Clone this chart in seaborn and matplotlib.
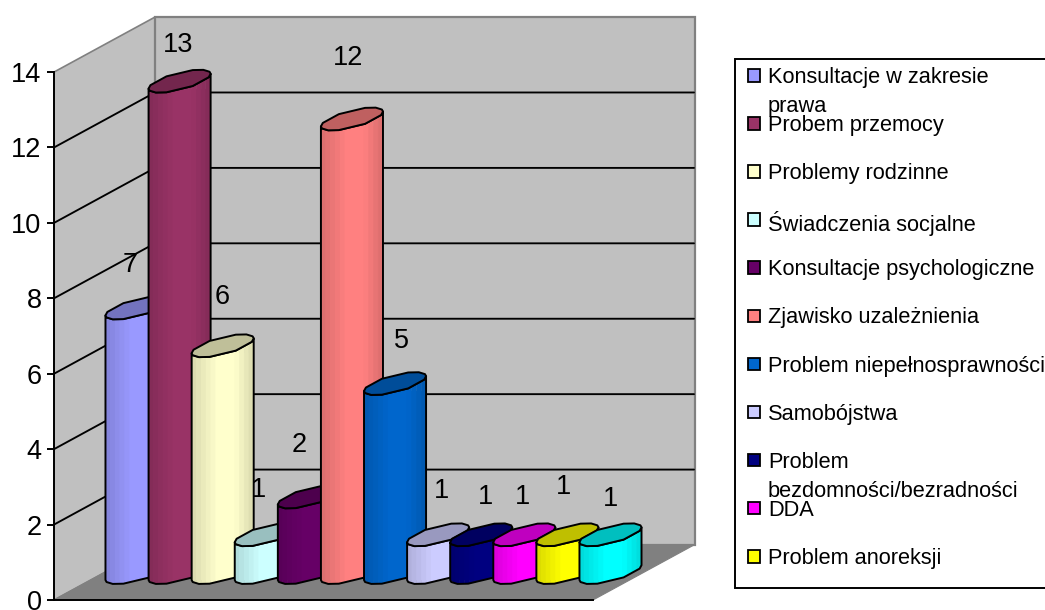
import numpy as np
import pandas as pd
import seaborn as sns
import matplotlib
matplotlib.use("Agg")
import matplotlib.pyplot as plt
from matplotlib.patches import Polygon, Rectangle
from matplotlib.colors import to_rgb

# ---- data ----
categories = ["Konsultacje w zakresie\nprawa", "Probem przemocy", "Problemy rodzinne",
              "Świadczenia socjalne", "Konsultacje psychologiczne", "Zjawisko uzależnienia",
              "Problem niepełnosprawności", "Samobójstwa",
              "Problem\nbezdomności/bezradności", "DDA", "Problem anoreksji", "Inne"]
values = [7, 13, 6, 1, 2, 12, 5, 1, 1, 1, 1, 1]
colors = ["#9999FF", "#993366", "#FFFFCC", "#CCFFFF", "#660066", "#FF8080",
          "#0066CC", "#CCCCFF", "#000080", "#FF00FF", "#FFFF00", "#00FFFF"]
value_ticks = [0, 2, 4, 6, 8, 10, 12, 14]
# hand-placed label offsets (pixels, from the top-left of each cylinder's centre)
label_dx = [-6, -1, 0, -7, -10, -4, 6, 3, 4, -2, -4, 0]
label_dy = [50, 44, 56, 52, 59, 68, 50, 51, 45, 45, 55, 43]

W, H = 1045, 610
sns.set_theme(style="white")
plt.rcParams["font.family"] = ["Liberation Sans", "DejaVu Sans"]
fig = plt.figure(figsize=(W / 100, H / 100), dpi=100, facecolor="white")

# ---- pixel-space backdrop: walls, floor, gridlines, legend ----
bg = fig.add_axes([0, 0, 1, 1], zorder=0)
bg.set_xlim(0, W)
bg.set_ylim(H, 0)
bg.axis("off")

X0, X1, Y0, PX = 54, 593, 600, 37.71
DX, DY = 101, -55


def front(v):
    return Y0 - v * PX


top = front(max(value_ticks))
bg.add_patch(Polygon([(X0, top), (X0 + DX, top + DY), (X0 + DX, Y0 + DY), (X0, Y0)],
                     fc="#C0C0C0", ec="#808080", lw=1.2))
bg.add_patch(Polygon([(X0 + DX, top + DY), (X1 + DX + 1, top + DY), (X1 + DX + 1, Y0 + DY), (X0 + DX, Y0 + DY)],
                     fc="#C0C0C0", ec="#808080", lw=1.6))
bg.add_patch(Polygon([(X0, Y0), (X1, Y0), (X1 + DX, Y0 + DY), (X0 + DX, Y0 + DY)],
                     fc="#808080", ec="#808080", lw=0.8))
for v in value_ticks[1:-1]:
    y = front(v)
    bg.plot([X0, X0 + DX, X1 + DX], [y, y + DY, y + DY], color="black", lw=1.35)

bg.add_patch(Rectangle((735, 59), 330, 529, fc="white", ec="black", lw=1.4))
for i, label in enumerate(categories[:11]):
    y = 75 + 48.1 * i
    bg.add_patch(Rectangle((747.5, y - 6), 12.5, 12.5, fc=colors[i], ec="black", lw=1.3))
    bg.text(768, y - 8, label, fontsize=15.7, va="top", ha="left",
            color="black", linespacing=1.5)

# ---- value axis ----
vax = fig.add_axes([X0 / W, (H - Y0) / H, (X1 - X0) / W, (Y0 - top) / H], zorder=1)
vax.patch.set_alpha(0)
vax.set_ylim(0, 14)
vax.set_xticks([])
vax.set_yticks(value_ticks)
vax.tick_params(axis="y", left=True, length=5, width=1.4, pad=4, labelsize=19.5, color="black", labelcolor="black")
for name, spine in vax.spines.items():
    spine.set_visible(name in ("left", "bottom"))
    spine.set_color("black")
    spine.set_linewidth(1.4)

# ---- cylinders ----
ax = fig.add_axes([0, 0, 1, 1], zorder=2)
ax.patch.set_alpha(0)
df = pd.DataFrame({"category": categories, "value": values})
sns.barplot(data=df, x="category", y="value", hue="category", order=categories, hue_order=categories,
            palette=colors, width=1.44, dodge=False, legend=False, ax=ax, saturation=1)
cat_px, val_px = 43.09, 37.8
c_first = 136.5
base_px = 580
ax.set_xlim(-c_first / cat_px, (W - c_first) / cat_px)
ax.set_ylim((base_px - H) / val_px, base_px / val_px)
ax.axis("off")

angle_b = np.arctan2(20, 23.7)
tilt = 11.5 / 31.0  # vertical half-extent vs horizontal half-extent
# outline of the low-poly cylinder cap, in degrees from its left-most point
front_deg = np.radians([0, 15, 40, 65, 115, 160, 180])
rects = sorted([p for p in ax.patches if p.get_width() > 0], key=lambda p: p.get_x())
for i, (rect, col) in enumerate(zip(rects, colors)):
    z = 10 + i
    half = rect.get_width() / 2
    cx = rect.get_x() + half
    v = rect.get_height()
    half_px = half * cat_px
    a, b = half_px * np.cos(angle_b), half_px * np.sin(angle_b)
    c = half_px * tilt
    lift = c * np.sin(angle_b) / val_px


    def ring(t, level):
        return (cx + (a * np.cos(t) + b * np.sin(t)) / cat_px,
                level + lift + c * np.sin(t) / val_px)


    t_front = angle_b + np.pi + front_deg
    t_back = angle_b + front_deg
    xt, yt = ring(t_front, v)
    xb, yb = ring(t_front, 0)
    base = np.array(to_rgb(col))
    body = list(zip(xt, yt)) + list(zip(xb[::-1], yb[::-1]))
    rect.set_zorder(z)
    rect.set_edgecolor("none")
    rect.set_clip_path(Polygon(body, transform=ax.transData))
    # vertical shading stripes follow the cap's front outline
    xs = np.linspace(xt[0], xt[-1], 14)
    yst = np.interp(xs, xt, yt)
    ysb = np.interp(xs, xb, yb)
    for k in range(13):
        f = ((xs[k] + xs[k + 1]) / 2 - (cx - half)) / (2 * half)
        shade = 0.85 + 0.15 * min(1, min(f / 0.42, (1 - f) / 0.3))
        fc = tuple(base * shade)
        ax.add_patch(Polygon([(xs[k], yst[k]), (xs[k + 1], yst[k + 1]), (xs[k + 1], ysb[k + 1]), (xs[k], ysb[k])],
                             fc=fc, ec=fc, lw=0.3, zorder=z + 0.1))
    ax.add_patch(Polygon(body, fc="none", ec="black", lw=1.4, zorder=z + 0.2, joinstyle="round"))
    xbk, ybk = ring(t_back, v)
    ax.add_patch(Polygon(list(zip(np.concatenate([xt, xbk]), np.concatenate([yt, ybk]))),
                         fc=tuple(base * 0.75), ec="black", lw=1.4, zorder=z + 0.3, joinstyle="round"))
    ax.annotate(str(values[i]), xy=(cx, v), xytext=(label_dx[i] * 0.72, label_dy[i] * 0.72),
                textcoords="offset points", ha="center", va="center", fontsize=19.5,
                color="black", zorder=40)

fig.savefig("out.png", dpi=100, facecolor="white")
